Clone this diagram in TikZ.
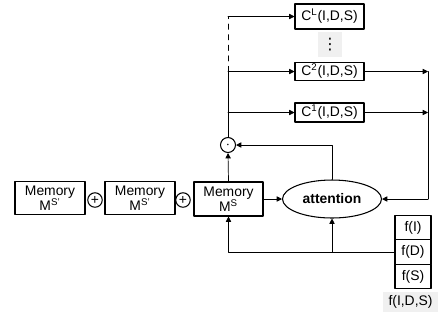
\documentclass[tikz,border=0pt]{standalone}
\usepackage{fontspec}
\setmainfont{Liberation Sans}
\newfontfamily\symfont{DejaVu Sans}
\usetikzlibrary{arrows.meta}
\usetikzlibrary{shapes}

\begin{document}
\begin{tikzpicture}[x=0.02cm, y=-0.02cm, line cap=round, line join=round, >={Triangle[length=3pt,width=3pt]},
  every node/.style={font=\fontsize{7.9}{8.6}\selectfont, inner sep=0pt},
  mem/.style={draw, line width=0.6pt, minimum width=1.4cm, minimum height=0.66cm, align=center},
  oper/.style={draw, circle, line width=0.6pt, minimum size=0.29cm},
  cfun/.style={draw, line width=0.6pt, minimum width=1.38cm},
  fcell/.style={draw, line width=0.6pt, minimum width=0.72cm, minimum height=0.49cm},
  shade/.style={fill=black!6}]
\useasboundingbox (0,0) rectangle (438,329);

% memory chain
\node[mem] (mem1) at (50,198) {Memory\\M\textsuperscript{S'}};
\node[oper] (plus1) at (95,200) {+};
\node[mem] (mem2) at (140,198) {Memory\\M\textsuperscript{S'}};
\node[oper] (plus2) at (183,200) {+};
\node[mem, minimum width=1.38cm, minimum height=0.68cm] (memS) at (228.5,199) {Memory\\M\textsuperscript{S}};

\node[oper, minimum size=0.3cm] (prod) at (228,145) {$\cdot$};
\node[draw, ellipse, line width=0.6pt, minimum width=1.98cm, minimum height=0.76cm, font=\fontsize{7.9}{8.6}\selectfont\bfseries] (att) at (332,199) {attention};

% classifiers
\node[cfun, minimum height=0.5cm] (cL) at (329.5,16.5) {C\textsuperscript{L}(I,D,S)};
\node[shade, minimum width=0.48cm, minimum height=0.5cm, font=\symfont\fontsize{9}{9}\selectfont] (dots) at (330,44.5) {⋮};
\node[cfun, minimum height=0.37cm] (c2) at (329.5,71.5) {C\textsuperscript{2}(I,D,S)};
\node[cfun, minimum height=0.38cm] (c1) at (329.5,112.5) {C\textsuperscript{1}(I,D,S)};

% features
\node[fcell] (fI) at (413,227.5) {f(I)};
\node[fcell] (fD) at (413,252) {f(D)};
\node[fcell] (fS) at (413,276.5) {f(S)};
\node[shade, minimum width=1.1cm, minimum height=0.4cm] (fall) at (410.5,302) {f(I,D,S)};

\coordinate (rbus) at (428,72);

\draw[->] (memS.north) -- (prod.south);
\draw (prod.north) -- (prod |- c2.west);
\draw[dashed] (prod |- c2.west) -- (prod |- cL.west);
\draw[->] (prod |- cL.west) -- (cL.west);
\draw[->] (prod |- c2.west) -- (c2.west);
\draw[->] (prod |- c1.west) -- (c1.west);

\draw[->] (c2.east) -- (rbus |- c2.east);
\draw[->] (c1.east) -- (rbus |- c1.east);
\draw (rbus |- c2.east) -- (rbus |- att.east);
\draw[->] (rbus |- att.east) -- (att.east);

\draw[->] (memS.east) -- (att.west);
\draw[->] (att.north) |- (prod.east);

\draw[->] (fD.west) -| (memS.south);
\draw[->] (att.south |- fD.west) -- (att.south);
\end{tikzpicture}
\end{document}
